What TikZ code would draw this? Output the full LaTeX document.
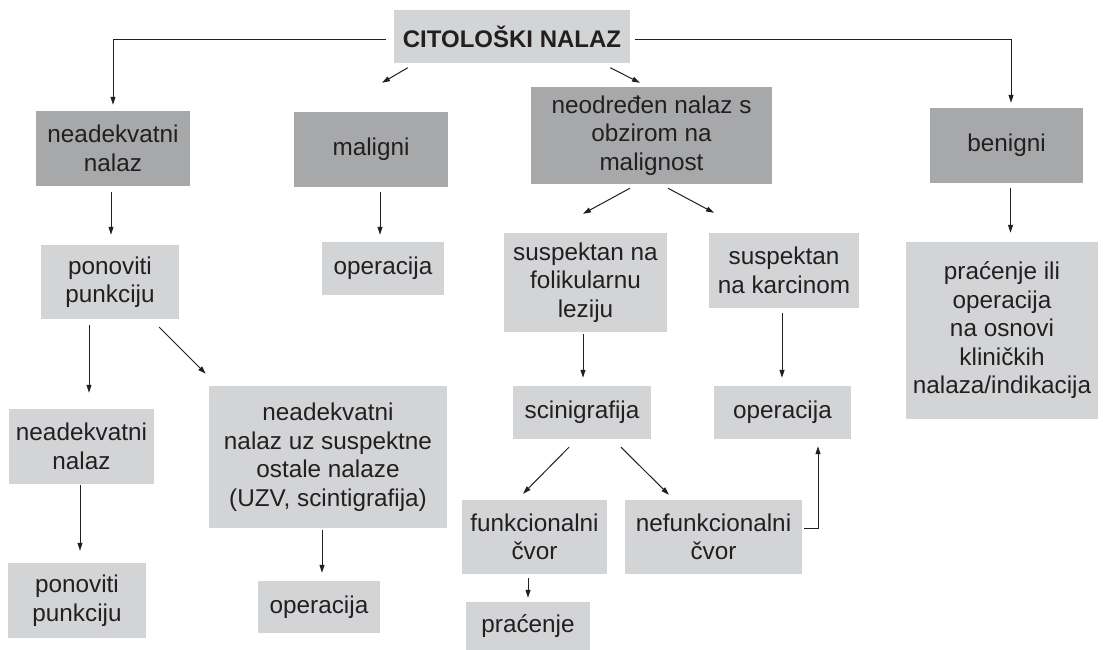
\documentclass[tikz,border=0pt]{standalone}
\usepackage{fontspec}
\setmainfont{Liberation Sans}
\usetikzlibrary{calc,arrows.meta}
\definecolor{darkg}{RGB}{167,168,170}
\definecolor{lightg}{RGB}{211,212,214}
\definecolor{ink}{RGB}{35,31,32}
\begin{document}
\begin{tikzpicture}[x=1pt,y=-1pt,
  box/.style={inner sep=0pt,align=center,text=ink,font=\fontsize{24.3}{28.5}\selectfont},
  dbox/.style={box,fill=darkg},
  lbox/.style={box,fill=lightg},
  arr/.style={draw=ink,line width=1pt,-{Triangle[length=8pt,width=5pt]}}]
\useasboundingbox[fill=white] (0,0) rectangle (1103,650);
% nodes
\node[lbox,minimum width=236pt,minimum height=53pt,font=\bfseries\fontsize{24}{28}\selectfont] (top) at (512,37) {CITOLOŠKI NALAZ};
\node[dbox,minimum width=154pt,minimum height=75pt] (nead1) at (113,148.5) {neadekvatni\\nalaz};
\node[dbox,minimum width=154pt,minimum height=75pt] (mal) at (371,149.5) {maligni};
\node[dbox,minimum width=241pt,minimum height=97pt] (neodr) at (651.5,135.5) {neodređen nalaz s\\obzirom na\\malignost};
\node[dbox,minimum width=153pt,minimum height=75pt] (ben) at (1006.5,145.5) {benigni};
\node[lbox,minimum width=138pt,minimum height=74pt] (pon1) at (110,282) {ponoviti\\punkciju};
\node[lbox,minimum width=122pt,minimum height=53pt] (op1) at (383,268.5) {operacija};
\node[lbox,minimum width=145pt,minimum height=75pt] (nead2) at (81.5,446.5) {neadekvatni\\nalaz};
\node[lbox,minimum width=138pt,minimum height=75pt] (pon2) at (77,600.5) {ponoviti\\punkciju};
\node[lbox,minimum width=238pt,minimum height=142pt] (neaduz) at (328,457) {neadekvatni\\nalaz uz suspektne\\ostale nalaze\\(UZV, scintigrafija)};
\node[lbox,minimum width=122pt,minimum height=52pt] (op2) at (319,607) {operacija};
\node[lbox,minimum width=163pt,minimum height=99pt] (susfol) at (585.5,282.5) {suspektan na\\folikularnu\\leziju};
\node[lbox,minimum width=150pt,minimum height=75pt] (suskar) at (784,270.5) {suspektan\\na karcinom};
\node[lbox,minimum width=138pt,minimum height=53pt] (scini) at (582,412.5) {scinigrafija};
\node[lbox,minimum width=137pt,minimum height=53pt] (op3) at (782.5,412.5) {operacija};
\node[lbox,minimum width=145pt,minimum height=74pt] (funk) at (534.5,537) {funkcionalni\\čvor};
\node[lbox,minimum width=177pt,minimum height=74pt] (nefunk) at (713.5,537) {nefunkcionalni\\čvor};
\node[lbox,minimum width=124pt,minimum height=48pt] (prac) at (528,626) {praćenje};
\node[lbox,minimum width=192pt,minimum height=177pt] (pracili) at (1002,330.5) {praćenje ili\\operacija\\na osnovi\\kliničkih\\nalaza/indikacija};
% connectors
\draw[arr] ($(top.west)+(-8,3)$) -| ($(nead1.north)+(0,-6)$);
\draw[arr] ($(top.east)+(5,3)$) -| ($(ben.north)+(4.5,-5)$);
\draw[arr] ($(top.south west)+(14,4)$) -- ($(mal.north)+(11,-29)$);
\draw[arr] ($(top.south east)+(-20,4)$) -- ($(neodr.north)+(-11.5,-4)$);
\draw[arr] ($(nead1.south)+(-2,6)$) -- ($(pon1.north)+(1,-10)$);
\draw[arr] ($(mal.south)+(9,5)$) -- ($(op1.north)+(-3,-7)$);
\draw[arr] ($(pon1.south)+(-21,6)$) -- ($(nead2.north)+(7.5,-16)$);
\draw[arr] ($(pon1.south east)+(-20,8)$) -- ($(neaduz.north west)+(-3,-12)$);
\draw[arr] ($(nead2.south)+(-1.5,1)$) -- ($(pon2.north)+(3,-12)$);
\draw[arr] ($(neaduz.south)+(-6,2)$) -- ($(op2.north)+(3,-8)$);
\draw[arr] ($(neodr.south)+(-21.5,4)$) -- ($(susfol.north)+(-2.5,-19)$);
\draw[arr] ($(neodr.south)+(16.5,4)$) -- ($(suskar.north)+(-70,-20)$);
\draw[arr] ($(susfol.south)+(-2.5,2)$) -- ($(scini.north)+(1,-8)$);
\draw[arr] ($(suskar.south)+(-2,5)$) -- ($(op3.north)+(-0.5,-8)$);
\draw[arr] ($(ben.south)+(4,5)$) -- ($(pracili.north)+(8.5,-9)$);
\draw[arr] ($(scini.south)+(-13,8)$) -- ($(funk.north)+(-11.5,-6)$);
\draw[arr] ($(scini.south)+(39,8)$) -- ($(nefunk.north)+(-44.5,-5)$);
\draw[arr] ($(funk.south)+(-6.5,4)$) -- ($(prac.north)+(0,-4)$);
\draw[arr] ($(nefunk.east)+(2,-9)$) -| ($(op3.south)+(35.5,7)$);
\end{tikzpicture}
\end{document}
